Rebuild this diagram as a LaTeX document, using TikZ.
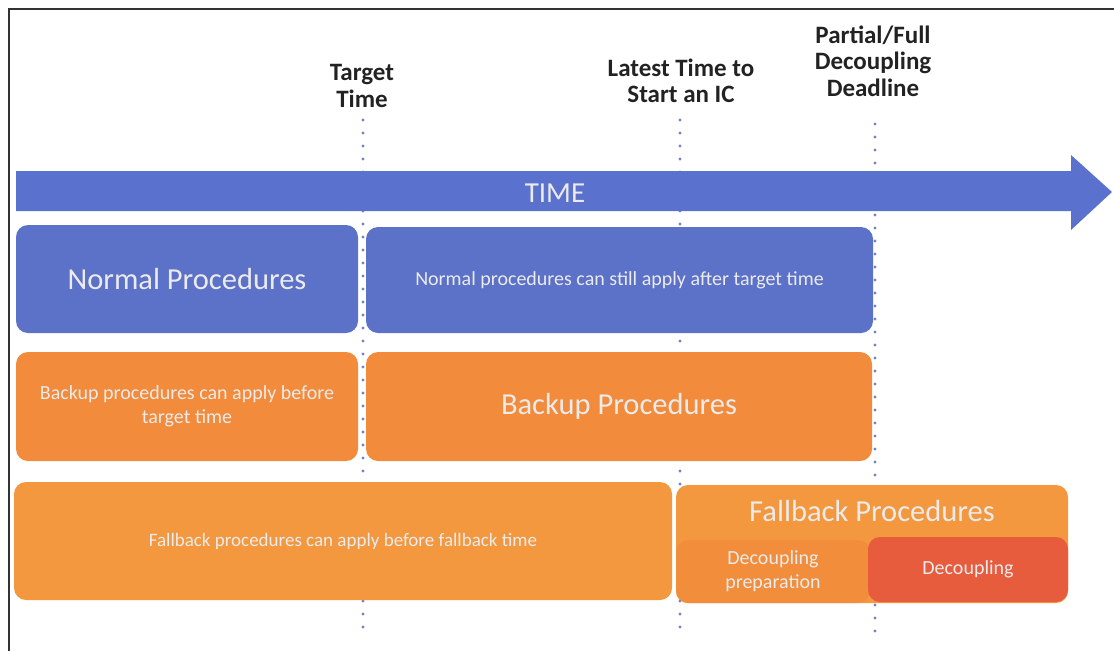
\documentclass[tikz,border=0pt]{standalone}
\usepackage{fontspec}
\setmainfont{Carlito}
\usetikzlibrary{positioning}
\definecolor{boxblue}{HTML}{5C71C8}
\definecolor{arrowblue}{HTML}{5A72CE}
\definecolor{boxorange}{HTML}{F28B3B}
\definecolor{lightorange}{HTML}{F4983F}
\definecolor{boxred}{HTML}{E85C3E}
\definecolor{dotblue}{HTML}{7282C4}
\definecolor{labelgray}{HTML}{222222}
\tikzset{
  procbox/.style={rounded corners=12pt, inner sep=0pt, align=center, text=white!92!black},
  bluebox/.style={procbox, fill=boxblue},
  orangebox/.style={procbox, fill=boxorange},
  bigtext/.style={font=\fontsize{30.5}{34}\selectfont},
  smalltext/.style={font=\fontsize{20}{24}\selectfont},
  timelabel/.style={align=center, text=labelgray, font=\bfseries\fontsize{25}{26.5}\selectfont},
  guide/.style={dotblue, line width=3.2pt, line cap=round, dash pattern=on 0pt off 13pt}
}
\begin{document}
\begin{tikzpicture}[x=1pt,y=-1pt]
\useasboundingbox (0,0) rectangle (1114,651);
% frame
\draw[line width=1.6pt, black!80] (9,651) -- (9,9) -- (1114,9);
% guide lines
\coordinate (t1) at (363,120);
\coordinate (b1) at (363,640);
\coordinate (t2) at (680,120);
\coordinate (b2) at (680,636);
\coordinate (t3) at (875,124);
\coordinate (b3) at (875,636);
\draw[guide] (t1) -- (b1);
\draw[guide] (t2) -- (b2);
\draw[guide] (t3) -- (b3);
% labels
\node[timelabel] (target) at (362,86) {Target\\Time};
\node[timelabel] (latest) at (681,81) {Latest Time to\\Start an IC};
\node[timelabel] (deadline) at (873,61) {Partial/Full\\Decoupling\\Deadline};
% time arrow
\fill[arrowblue] (16,171) -- (1071,171) -- (1071,155) -- (1112,192) -- (1071,230) -- (1071,211) -- (16,211) -- cycle;
\node[text=white!92!black, font=\fontsize{29}{32}\selectfont] (time) at (555,193) {TIME};
% normal row
\node[bluebox, bigtext, minimum width=342pt, minimum height=108pt] (normal) at (187,279) {Normal Procedures};
\node[bluebox, smalltext, minimum width=507pt, minimum height=106pt] (normalafter) at (619.5,280) {Normal procedures can still apply after target time};
% backup row
\node[orangebox, smalltext, minimum width=342pt, minimum height=109pt] (backupbefore) at (187,406.5) {Backup procedures can apply before\\target time};
\node[orangebox, bigtext, minimum width=506pt, minimum height=109pt] (backup) at (619,406.5) {Backup Procedures};
% fallback row
\node[orangebox, fill=lightorange, font=\fontsize{19}{23}\selectfont, minimum width=658pt, minimum height=118pt] (fallbackbefore) at (343,541) {Fallback procedures can apply before fallback time};
\node[orangebox, fill=lightorange, minimum width=392pt, minimum height=118pt] (fallback) at (872,544) {};
\node[text=white!92!black, bigtext] (fallbacktitle) at (872,511) {Fallback Procedures};
\node[orangebox, fill=boxorange!85!lightorange, smalltext, minimum width=194pt, minimum height=63pt] (prep) at (773,571.5) {Decoupling\\preparation};
\node[orangebox, fill=boxred, smalltext, minimum width=200pt, minimum height=65pt] (decoupling) at (968,569.5) {Decoupling};
\end{tikzpicture}
\end{document}
